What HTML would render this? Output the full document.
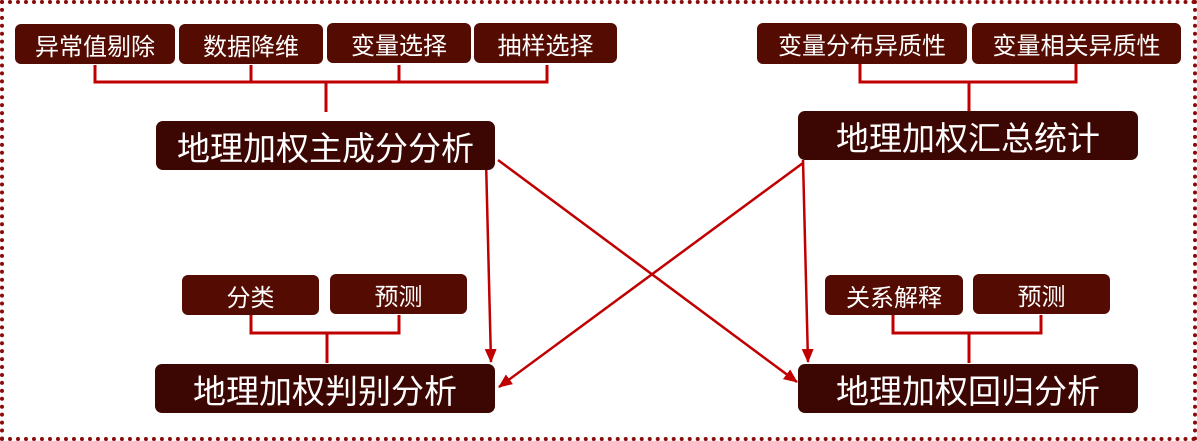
<!DOCTYPE html>
<html><head><meta charset="utf-8"><style>
body{margin:0;width:1197px;height:441px;background:#fff;position:relative;overflow:hidden;font-family:"Liberation Sans","Noto Sans CJK SC",sans-serif}
.f{position:absolute;left:0px;top:0px;width:1189px;height:433px;border:4px dotted #8b0a0a}
.b{position:absolute;background:#540c02;color:#fff;border-radius:6px;display:flex;align-items:center;justify-content:center;font-size:24px}
.g{background:#3c0703;font-size:33px;border-radius:7px}
svg{position:absolute;left:0;top:0}
</style></head><body>
<div class="f"></div>
<svg width="1197" height="441">
<defs><marker id="a" markerWidth="14" markerHeight="12" refX="13" refY="6" orient="auto" markerUnits="userSpaceOnUse"><path d="M0,0 L14,6 L0,12 z" fill="#c00000"/></marker></defs>
<g stroke="#c00000" stroke-width="3" fill="none">
<path d="M95,65V82H547V65M251,65V82M399,65V82M326,82V112"/>
<path d="M860,64V82H1076V64M969,82V111"/>
<path d="M251,315V333H399V315M327,333V363"/>
<path d="M893,315V333H1041V315M969,333V363"/>
</g>
<g stroke="#c00000" stroke-width="2.5" marker-end="url(#a)">
<line x1="486" y1="160" x2="491" y2="362"/>
<line x1="498" y1="160" x2="797" y2="382"/>
<line x1="803" y1="163" x2="499" y2="387"/>
<line x1="803" y1="160" x2="808" y2="362"/>
</g>
</svg>
<div class="b" style="left:15px;top:24px;width:160px;height:40px">异常值剔除</div>
<div class="b" style="left:179px;top:24px;width:144px;height:40px">数据降维</div>
<div class="b" style="left:327px;top:23px;width:144px;height:40px">变量选择</div>
<div class="b" style="left:474px;top:23px;width:143px;height:40px">抽样选择</div>
<div class="b" style="left:757px;top:23px;width:210px;height:41px">变量分布异质性</div>
<div class="b" style="left:972px;top:23px;width:209px;height:41px">变量相关异质性</div>
<div class="b g" style="left:156px;top:121px;width:339px;height:49px">地理加权主成分分析</div>
<div class="b g" style="left:798px;top:111px;width:340px;height:49px">地理加权汇总统计</div>
<div class="b" style="left:182px;top:275px;width:137px;height:40px">分类</div>
<div class="b" style="left:330px;top:274px;width:137px;height:40px">预测</div>
<div class="b" style="left:825px;top:275px;width:138px;height:40px">关系解释</div>
<div class="b" style="left:973px;top:274px;width:137px;height:40px">预测</div>
<div class="b g" style="left:155px;top:364px;width:340px;height:49px">地理加权判别分析</div>
<div class="b g" style="left:798px;top:364px;width:340px;height:49px">地理加权回归分析</div>
</body></html>
